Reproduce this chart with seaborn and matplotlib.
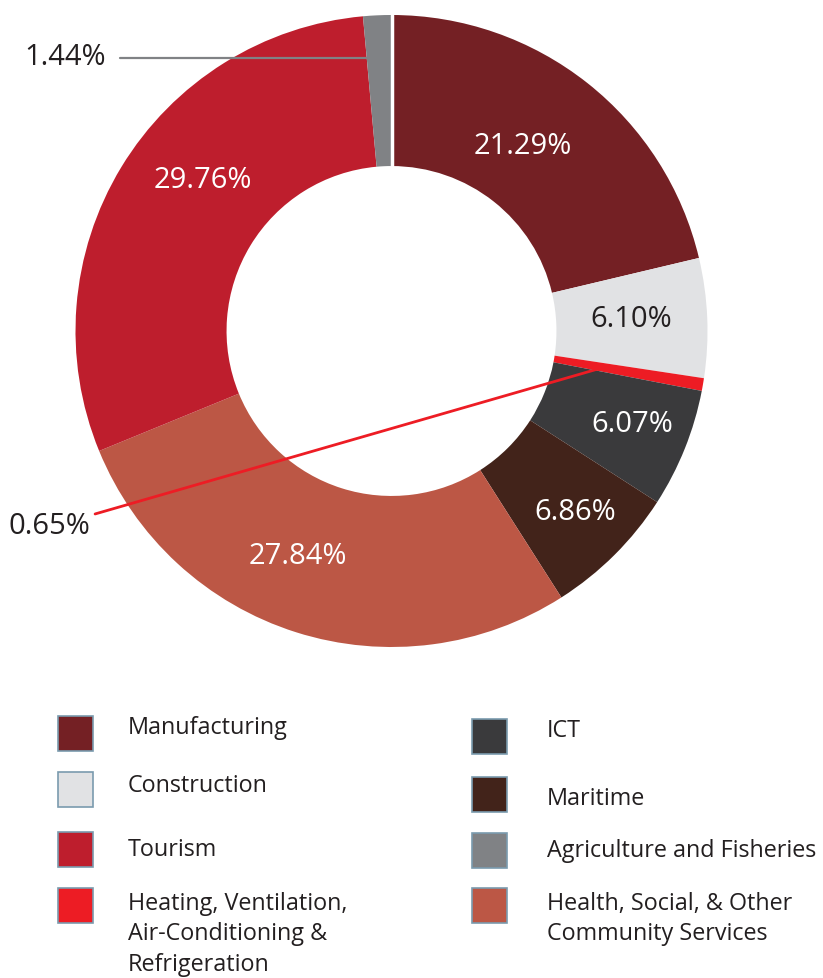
import numpy as np
import matplotlib
matplotlib.use("Agg")
import matplotlib.pyplot as plt
import seaborn as sns
from matplotlib.patches import Rectangle

# pie order (clockwise from 12 o'clock)
sectors = ["Manufacturing", "Construction",
           "Heating, Ventilation,\nAir-Conditioning &\nRefrigeration",
           "ICT", "Maritime",
           "Health, Social, & Other\nCommunity Services",
           "Tourism", "Agriculture and Fisheries"]
shares = [21.29, 6.10, 0.65, 6.07, 6.86, 27.84, 29.76, 1.44]
share_labels = ["21.29%", "6.10%", "0.65%", "6.07%", "6.86%", "27.84%", "29.76%", "1.44%"]
sector_colors = ["#742024", "#E1E2E4", "#ED1C24", "#3A3A3C",
                 "#42231A", "#BC5745", "#BE1E2D", "#808285"]

# legend columns
legend_left = ["Manufacturing", "Construction", "Tourism",
               "Heating, Ventilation,\nAir-Conditioning &\nRefrigeration"]
legend_right = ["ICT", "Maritime", "Agriculture and Fisheries",
                "Health, Social, & Other\nCommunity Services"]

sns.set_theme(style="white")
plt.rcParams['font.family'] = ['Open Sans', 'DejaVu Sans']

W, H = 823, 979
fig = plt.figure(figsize=(W / 100, H / 100), dpi=100, facecolor='white')

# donut axes: centre (391.5, 332) px, radius 316 px
cx, cy, R = 391.5, 332, 316
ax = fig.add_axes([(cx - R) / W, (H - cy - R) / H, 2 * R / W, 2 * R / H])

wedges, _ = ax.pie(shares, colors=sector_colors, startangle=90, counterclock=False,
                   wedgeprops=dict(width=0.478, edgecolor='none', linewidth=0))
ax.set_xlim(-1, 1)
ax.set_ylim(-1, 1)
ax.set_aspect('equal')
ax.axis('off')

# small white seam at 12 o'clock
ax.plot([0, 0], [0.52, 1.0], color='white', lw=2.5, zorder=2)

# inside label tweaks (angle offset deg, radius)
inner_pos = {0: (3.0, 0.72), 1: (0.5, 0.76), 3: (0.8, 0.815), 4: (0.5, 0.815),
             5: (-5.0, 0.77), 6: (-7.5, 0.765)}
for i, w in enumerate(wedges):
    mid = (w.theta1 + w.theta2) / 2
    if i in inner_pos:
        da, r = inner_pos[i]
        a = np.deg2rad(mid + da)
        txt_color = '#231F20' if i == 1 else 'white'
        ax.text(r * np.cos(a), r * np.sin(a), share_labels[i], color=txt_color,
                fontsize=21, ha='center', va='center')

# outside labels with leader lines
# Agriculture (1.44%)
w = wedges[7]
a = np.deg2rad((w.theta1 + w.theta2) / 2)
ly = 0.864
ex = ly / np.sin(a) * np.cos(a)
ax.plot([-0.859, ex], [ly, ly], color="#808285", lw=1.6, clip_on=False, zorder=3)
ax.text(-1.033, 0.870, share_labels[7], fontsize=21, ha='center', va='center',
        color='#231F20')

# HVAC (0.65%)
w = wedges[2]
a = np.deg2rad((w.theta1 + w.theta2) / 2)
ax.plot([-0.938, 0.68 * np.cos(a)], [-0.579, 0.68 * np.sin(a)], color="#ED1C24",
        lw=2.0, clip_on=False, zorder=3)
ax.text(-1.083, -0.617, share_labels[2], fontsize=21, ha='center', va='center',
        color='#231F20')

# legend drawn as two columns
color_of = dict(zip(sectors, sector_colors))
left_tops = [717, 773, 833, 889]
right_tops = [720, 778, 834, 889]
box = 35
for names, x0, tops, tx in [(legend_left, 58, left_tops, 128),
                            (legend_right, 472, right_tops, 547)]:
    for name, top in zip(names, tops):
        fig.patches.append(Rectangle((x0 / W, (H - top - box) / H), box / W, box / H,
                                     transform=fig.transFigure, facecolor=color_of[name],
                                     edgecolor="#7A9BAE", linewidth=1.2))
        if "\n" in name:
            fig.text(tx / W, (H - top - 3) / H, name, fontsize=16.8, ha='left', va='top',
                     linespacing=1.36, color='#231F20')
        else:
            off = {"Maritime": 4, "ICT": -6, "Construction": -4, "Tourism": 0,
                   "Manufacturing": -6, "Agriculture and Fisheries": 0}.get(name, 0)
            fig.text(tx / W, (H - top - box / 2 - off) / H, name, fontsize=16.8,
                     ha='left', va='center', color='#231F20')

fig.savefig("out.png", dpi=100, facecolor='white')
